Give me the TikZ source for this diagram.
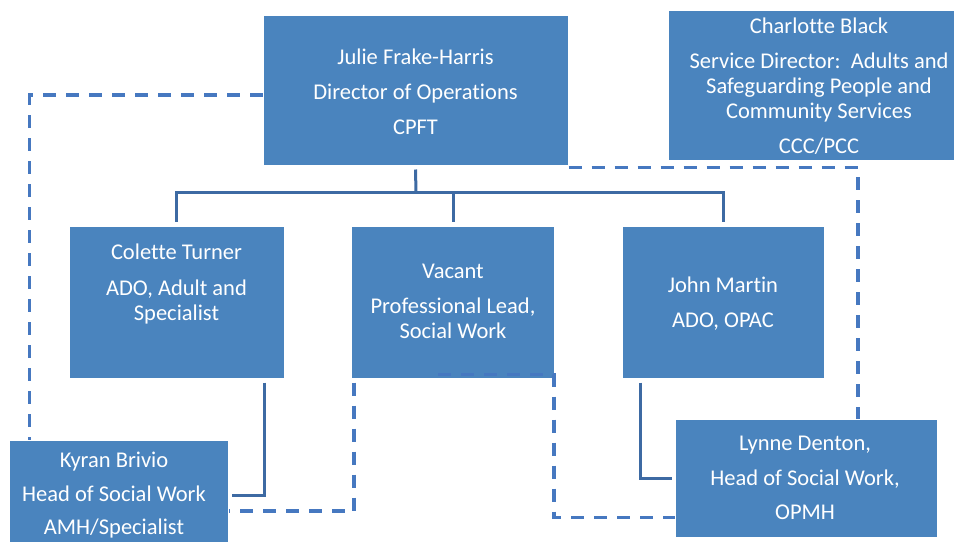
\documentclass[tikz,border=0pt]{standalone}
\usepackage{fontspec}
\setmainfont{Carlito}[RawFeature={-liga;-clig;-calt;-dlig}]
\definecolor{boxblue}{HTML}{4A84BE}
\definecolor{lineblue}{HTML}{3D6AA3}
\definecolor{dashblue}{HTML}{4678C0}
\begin{document}
\begin{tikzpicture}[x=1pt,y=-1pt,
  orgbox/.style={rectangle, fill=boxblue, draw=white, line width=1pt, inner sep=0pt},
  boxtext/.style={text=white, align=center, inner sep=0pt,
    font=\fontsize{22.5}{25}\selectfont},
  solidlink/.style={draw=lineblue, line width=3pt},
  dashlink/.style={draw=dashblue, line width=3.5pt, dash pattern=on 13pt off 10pt}]
\useasboundingbox (0,0) rectangle (954,542);

% junction of the solid tree below the director
\coordinate (bar) at (416,192);

% boxes
\node[orgbox, minimum width=305pt, minimum height=150pt] (julie) at (415.5,90) {};
\node[orgbox, minimum width=302pt, minimum height=150pt] (charlotte) at (819,85) {};
\node[orgbox, minimum width=215pt, minimum height=152pt] (colette) at (176.5,302) {};
\node[orgbox, minimum width=203pt, minimum height=152pt] (vacant) at (453,302) {};
\node[orgbox, minimum width=202pt, minimum height=152pt] (john) at (723,302) {};
\node[orgbox, minimum width=219pt, minimum height=102pt] (kyran) at (118.5,491) {};
\node[orgbox, minimum width=262pt, minimum height=118pt] (lynne) at (806,478) {};

% texts
\node[boxtext] (julie-t) at (415.5,91.5) {Julie Frake-Harris\\[10pt]Director of Operations\\[10pt]CPFT};
\node[boxtext] (charlotte-t) at (819,86.5) {Charlotte Black\\[10pt]Service Director:\ \ Adults and\\Safeguarding People and\\Community Services\\[10pt]CCC/PCC};
\node[boxtext] (colette-t) at (176.5,284) {Colette Turner\\[11pt]ADO, Adult and\\Specialist};
\node[boxtext] (vacant-t) at (453,301) {Vacant\\[10pt]Professional Lead,\\Social Work};
\node[boxtext] (john-t) at (723,304) {John Martin\\[10pt]ADO, OPAC};
\node[boxtext] (kyran-t) at (114,495) {Kyran Brivio\\[9pt]Head of Social Work\\[8pt]AMH/Specialist};
\node[boxtext] (lynne-t) at (805,477.5) {Lynne Denton,\\[10pt]Head of Social Work,\\[9pt]OPMH};

% solid line management
\draw[solidlink] ([yshift=-4pt]julie.south) -- (bar);
\draw[solidlink] (bar) -| ([yshift=4pt]colette.north);
\draw[solidlink] (bar) -| ([yshift=4pt]vacant.north);
\draw[solidlink] (bar) -| ([yshift=4pt]john.north);
\draw[solidlink] ([xshift=-20pt,yshift=-4pt]colette.south east) |- ([xshift=3pt,yshift=-4pt]kyran.east);
\draw[solidlink] ([xshift=19pt,yshift=-4pt]john.south west) |- ([xshift=-3pt]lynne.west);

% dashed professional lines
\draw[dashlink] ([yshift=-5pt]julie.west) -| ([xshift=21pt]kyran.north west);
\draw[dashlink] ([xshift=3pt,yshift=-4pt]vacant.south west) |- ([yshift=-20pt]kyran.east);
\draw[dashlink] ([xshift=-15pt,yshift=4pt]vacant.south) -- ([xshift=-1pt,yshift=4pt]vacant.south east) |- ([yshift=20pt]lynne.south west);
\draw[dashlink] ([yshift=-2pt]julie.south east) -| ([xshift=52pt]lynne.north);
\end{tikzpicture}
\end{document}
